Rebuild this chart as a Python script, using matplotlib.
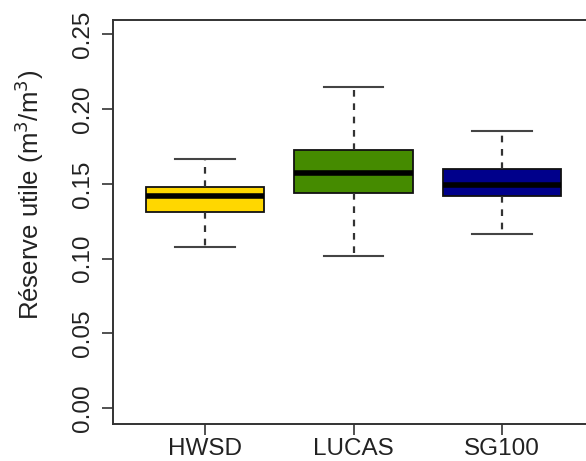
import matplotlib
matplotlib.use("Agg")
import matplotlib.pyplot as plt

categories = ["HWSD", "LUCAS", "SG100"]
whislo = [0.108, 0.102, 0.1165]
q1 = [0.1314, 0.1441, 0.1421]
med = [0.1421, 0.1571, 0.1493]
q3 = [0.1479, 0.1727, 0.1597]
whishi = [0.1667, 0.2151, 0.1856]
colors = ["#FFD700", "#458B00", "#00008B"]
yticks = [0.00, 0.05, 0.10, 0.15, 0.20, 0.25]
ytick_labels = ["0.00", "0.05", "0.10", "0.15", "0.20", "0.25"]

plt.rcParams['font.family'] = ['Liberation Sans', 'DejaVu Sans']

W, H = 586, 461
fig = plt.figure(figsize=(W / 100, H / 100), dpi=100)
ax = fig.add_axes([113 / W, 37 / H, 481 / W, 404 / H])

stats = []
for i, c in enumerate(categories):
    stats.append(dict(label=c, whislo=whislo[i], q1=q1[i], med=med[i],
                      q3=q3[i], whishi=whishi[i], fliers=[]))

bp = ax.bxp(stats, positions=[1, 2, 3], widths=0.8, patch_artist=True,
            showfliers=False,
            boxprops=dict(edgecolor="#111111", linewidth=1.3),
            medianprops=dict(color="black", linewidth=4, solid_capstyle="butt"),
            whiskerprops=dict(color="#333333", linewidth=1.6, linestyle=(0, (3, 3))),
            capprops=dict(color="#444444", linewidth=1.5),
            capwidths=0.4)
for patch, col in zip(bp["boxes"], colors):
    patch.set_facecolor(col)

ax.set_xlim(0.38, 3.62)
ax.set_ylim(-0.0107, 0.2597)
ax.set_yticks(yticks)
ax.set_yticklabels(ytick_labels, rotation=90, va="center")
ax.set_xticks([1, 2, 3])
ax.set_xticklabels(categories)
ax.tick_params(axis="both", direction="out", length=8, width=1.2, color="#333333",
               labelsize=17.5, labelcolor="#222222")
ax.tick_params(axis="y", pad=6)
ax.tick_params(axis="x", pad=2)
for s in ax.spines.values():
    s.set_color("#333333")
    s.set_linewidth(1.4)

ax.set_ylabel("Réserve utile (m$^3$/m$^3$)", fontsize=18.5, color="#222222",
              va="center")
ax.yaxis.set_label_coords((29 - 113) / 481, (H - 195 - 37) / 404)

fig.savefig("out.png", dpi=100)
